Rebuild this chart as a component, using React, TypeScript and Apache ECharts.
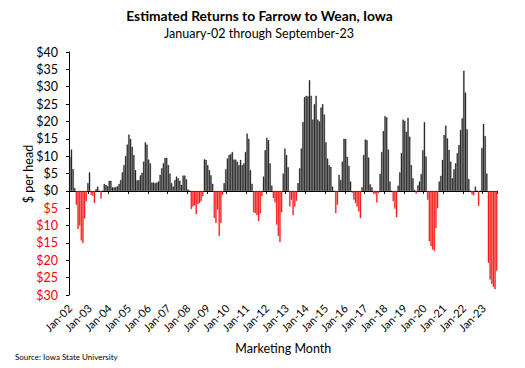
import React, { useEffect, useRef } from "react";
import * as echarts from "echarts";

const monthNames = ["Jan", "Feb", "Mar", "Apr", "May", "Jun", "Jul", "Aug", "Sep", "Oct", "Nov", "Dec"];
const firstYear = 2002;

const ret2002 = [9.8, 11.9, 6.3, 0.8, -4, -11, -10, -14.3, -15, -8, -3, 2.2];
const ret2003 = [5.3, -1.1, -1.4, -3.5, 0.5, 1.2, 0, -2.2, 0, 2, 1.7, 1.4];
const ret2004 = [2.9, 2.9, 1, 1, 1.1, 1.3, 2, 3.1, 5.3, 7.4, 10, 13.3];
const ret2005 = [16.2, 15, 12.7, 10.3, 6, 3, 3.1, 4.5, 5.2, 8.4, 14, 13.3];
const ret2006 = [9, 7.9, 2.4, 2.4, 2.2, 2.4, 2.7, 4.6, 6.5, 7.9, 9.5, 9.5];
const ret2007 = [7.4, 5, 2.2, 1.2, 3.1, 4.1, 3.6, 2.9, 1.7, 4.4, 4.4, 3.3];
const ret2008 = [0.4, 0, -5.2, -4.5, -4.2, -6.7, -3.8, -3.5, -3, -1.5, 9.1, 8.9];
const ret2009 = [7.4, 6, 4.5, 2, -7.8, -9.2, -5.4, -13, -9.2, -1.1, 2.2, 6.2];
const ret2010 = [9.3, 10.3, 10.6, 11.2, 9, 9, 8.4, 7.4, 8.9, 7.4, 7.9, 11.2];
const ret2011 = [16.5, 15, 6, 2, -6.2, -6.4, -7, -8.7, -6.5, -1.5, 4.1, 11.7];
const ret2012 = [15.3, 14.6, 7.9, 1.5, -2.1, -3.3, -9.7, -13, -14.8, -6.2, 5, 12.2];
const ret2013 = [10.3, 6.8, -4.5, -2.6, -7, -4.5, -2.9, 2.2, 6.5, 12.2, 19.8, 27];
const ret2014 = [27.4, 27.2, 31.9, 27.4, 20.5, 25, 27.4, 20.5, 20, 24, 25, 22];
const ret2015 = [14, 9.3, 7.4, 6.9, 1.2, 0, -6.4, -4, 4.6, 3.1, 8.4, 15];
const ret2016 = [15, 9.8, 7.2, 2.7, -0.5, -2.5, -3.5, -4.5, -5.9, -7.8, 1, 10.3];
const ret2017 = [14.8, 14.6, 9.6, 1.9, 1.0, -0.8, -0.9, -3.3, -0.6, 4.9, 11.2, 17.2];
const ret2018 = [21.5, 21.2, 11.9, 2.7, 0, -3, -5.1, -7.6, 1.5, 5.3, 10.9, 20.5];
const ret2019 = [20.2, 17, 21, 15.6, 7.4, 3.6, 0.3, -0.8, 1.6, 2.7, 4.8, 11.7];
const ret2020 = [19.8, 9.9, -2.6, -14.5, -15.9, -16.9, -17.3, -10.7, -5, 2.7, 4.3, 8.9];
const ret2021 = [16.1, 18.8, 15.1, 11.8, 8.4, 3.6, 6.2, 7.9, 10.8, 13.2, 17.5, 20.9];
const ret2022 = [34.6, 28.3, 17.7, 3.4, 0, -1, -1.3, 1.2, 0, -4.3, 0, 12.3];
const ret2023 = [19.3, 15.8, 5, -20.7, -25.5, -26.8, -27.7, -28.3, -23];

const yearly = [
  ret2002, ret2003, ret2004, ret2005, ret2006, ret2007, ret2008, ret2009, ret2010, ret2011, ret2012,
  ret2013, ret2014, ret2015, ret2016, ret2017, ret2018, ret2019, ret2020, ret2021, ret2022, ret2023,
];

const categories: string[] = [];
const values: number[] = [];
yearly.forEach((arr, yi) => {
  const yy = String((firstYear + yi) % 100).padStart(2, "0");
  arr.forEach((v, mi) => {
    categories.push(`${monthNames[mi]}-${yy}`);
    values.push(v);
  });
});

const FONT = "Lato, 'Open Sans', sans-serif";

export default function App() {
  const ref = useRef<HTMLDivElement>(null);
  useEffect(() => {
    document.body.style.margin = "0";
    if (!ref.current) return;
    const chart = echarts.init(ref.current, null, { renderer: "svg" });
    chart.setOption({
      animation: false,
      backgroundColor: "#ffffff",
      textStyle: { fontFamily: FONT },
      grid: { left: 69, right: 27.5, top: 52, bottom: 73, containLabel: false },
      graphic: [
        {
          type: "text",
          x: 259.5,
          y: 15,
          style: {
            text: "Estimated Returns to Farrow to Wean, Iowa",
            fontFamily: FONT,
            fontSize: 13.8,
            fontWeight: "bold",
            fill: "#000",
            align: "center",
            verticalAlign: "middle",
          },
        },
        {
          type: "text",
          x: 259,
          y: 33.5,
          style: {
            text: "January-02 through September-23",
            fontFamily: FONT,
            fontSize: 12.5,
            fill: "#000",
            align: "center",
            verticalAlign: "middle",
          },
        },
        {
          type: "text",
          x: 28,
          y: 174,
          rotation: Math.PI / 2,
          style: {
            text: "$ per head",
            fontFamily: FONT,
            fontSize: 12.5,
            fill: "#000",
            align: "center",
            verticalAlign: "middle",
          },
        },
        {
          type: "text",
          x: 15,
          y: 356.5,
          style: {
            text: "Source: Iowa State University",
            fontFamily: FONT,
            fontSize: 8,
            fill: "#000",
            align: "left",
            verticalAlign: "middle",
          },
        },
      ],
      xAxis: [
        {
          type: "category",
          data: categories,
          boundaryGap: true,
          axisLine: { show: true, onZero: true, lineStyle: { color: "#000", width: 1 } },
          axisTick: { show: true, interval: 11, length: 3, lineStyle: { color: "#000", width: 1 } },
          axisLabel: { show: false },
          splitLine: { show: false },
        },
        {
          type: "category",
          data: categories,
          position: "bottom",
          boundaryGap: true,
          axisLine: { show: false, onZero: false },
          axisTick: { show: false },
          axisLabel: {
            show: true,
            interval: 11,
            rotate: 45,
            fontSize: 11,
            color: "#000",
            margin: 11,
            fontFamily: FONT,
          },
          name: "Marketing Month",
          nameLocation: "middle",
          nameGap: 47,
          nameTextStyle: { fontSize: 12.5, color: "#000", fontFamily: FONT },
          splitLine: { show: false },
        },
      ],
      yAxis: {
        type: "value",
        min: -30,
        max: 40,
        interval: 5,
        axisLine: { show: true, lineStyle: { color: "#000", width: 1 } },
        axisTick: { show: true, length: 3, lineStyle: { color: "#000" } },
        splitLine: { show: false },
        axisLabel: {
          fontSize: 12.5,
          margin: 11,
          fontFamily: FONT,
          formatter: (v: number) => "$" + Math.abs(v),
          color: (v: any) => (Number(v) < 0 ? "#ff0000" : "#000000"),
        },
      },
      series: [
        {
          type: "bar",
          xAxisIndex: 0,
          data: values.map((v) => (v >= 0 ? v : "-")),
          barWidth: "80%",
          barGap: "-100%",
          itemStyle: { color: "#333333", borderColor: "#000", borderWidth: 0.3 },
        },
        {
          type: "bar",
          xAxisIndex: 0,
          data: values.map((v) => (v < 0 ? v : "-")),
          barWidth: "80%",
          barGap: "-100%",
          itemStyle: { color: "#ff1a1a", borderColor: "#e80000", borderWidth: 0.3 },
        },
      ],
    });
    return () => chart.dispose();
  }, []);
  return <div ref={ref} style={{ width: 525, height: 368 }} />;
}
